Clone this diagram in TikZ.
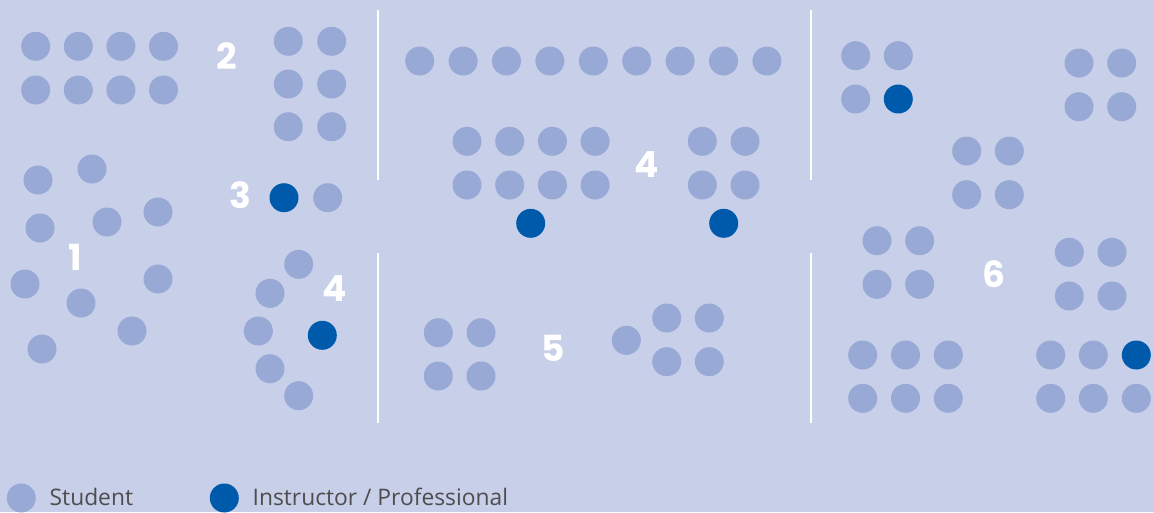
\documentclass[tikz,border=0pt]{standalone}
\usepackage{fontspec}
\setmainfont{Open Sans}
\newfontfamily\numfont{Poppins}
\usetikzlibrary{positioning}
\definecolor{bgblue}{HTML}{C8D0E9}
\definecolor{dotlight}{HTML}{99A9D5}
\definecolor{dotdark}{HTML}{005AAB}
\definecolor{textgray}{HTML}{4D4D4D}
\tikzset{
  student/.style={circle, fill=dotlight, minimum size=29pt, inner sep=0pt},
  instructor/.style={circle, fill=dotdark, minimum size=29pt, inner sep=0pt},
  grouplabel/.style={text=white, inner sep=0pt,
                     font=\numfont\bfseries\fontsize{36}{36}\selectfont},
  divider/.style={draw=white, line width=2.5pt},
  legendtext/.style={text=textgray, anchor=base west, inner sep=0pt,
                     font=\fontsize{22.8}{22.8}\selectfont}
}

\begin{document}
\begin{tikzpicture}[x=1pt, y=-1pt]
\fill[bgblue] (0,0) rectangle (1154,512);
\useasboundingbox (0,0) rectangle (1154,512);

% room dividers
\draw[divider] (378,10) -- (378,180);
\draw[divider] (378,253) -- (378,423);
\draw[divider] (811,10) -- (811,180);
\draw[divider] (811,253) -- (811,423);

% group 1
\foreach \x/\y [count=\n] in {38/180, 92/169, 40/228, 107/222, 158/212,
    25/284, 81/303, 158/279, 132/331, 42/349}
  \node[student] (one-\n) at (\x,\y) {};
\node[grouplabel] (lab1) at (75,257) {1};

% group 2
\foreach \i in {0,...,3}
  \foreach \j in {0,1}
    \node[student] (two-a-\i-\j) at ({35.7+42.6*\i},{46.3+43.7*\j}) {};
\foreach \i in {0,1}
  \foreach \j in {0,1,2}
    \node[student] (two-b-\i-\j) at ({288.3+43.4*\i},{41.3+42.7*\j}) {};
\node[grouplabel] (lab2) at (226.7,56) {2};

% group 3
\node[instructor] (three-a) at (284,197.7) {};
\node[student] (three-b) at (327.7,197.7) {};
\node[grouplabel] (lab3) at (240,195) {3};

% group 4, left
\foreach \x/\y/\s [count=\n] in {298.7/264.3/student, 270/293.3/student,
    258.3/331/student, 322.3/335.3/instructor, 270/368.7/student,
    298.7/395.7/student}
  \node[\s] (four-l-\n) at (\x,\y) {};
\node[grouplabel] (lab4l) at (334.3,289) {4};

% group 4, middle
\foreach \i in {0,...,8}
  \node[student] (four-row-\i) at ({419.7+43.4*\i},61) {};
\foreach \i in {0,...,3}
  \foreach \j in {0,1}
    \node[student] (four-a-\i-\j) at ({467+42.7*\i},{141.3+43.7*\j}) {};
\foreach \i in {0,1}
  \foreach \j in {0,1}
    \node[student] (four-b-\i-\j) at ({702.3+42.7*\i},{141.3+43.7*\j}) {};
\node[instructor] (four-p1) at (530.7,223.3) {};
\node[instructor] (four-p2) at (723.7,223.3) {};
\node[grouplabel] (lab4m) at (646.7,165) {4};

% group 5
\foreach \i in {0,1}
  \foreach \j in {0,1}
    \node[student] (five-a-\i-\j) at ({438.3+42.7*\i},{332.7+43.3*\j}) {};
\node[student] (five-c) at (626.3,340.3) {};
\foreach \i in {0,1}
  \foreach \j in {0,1}
    \node[student] (five-b-\i-\j) at ({666.7+42.6*\i},{318+43.7*\j}) {};
\node[grouplabel] (lab5) at (553.3,348.3) {5};

% group 6
\foreach \x/\y/\s [count=\n] in {855.7/55.7/student, 898.3/55.7/student,
    855.7/99/student, 898.3/99/instructor}
  \node[\s] (six-a-\n) at (\x,\y) {};
\foreach \i in {0,1}
  \foreach \j in {0,1} {
    \node[student] (six-b-\i-\j) at ({1079+42.7*\i},{63+43.7*\j}) {};
    \node[student] (six-c-\i-\j) at ({966.7+42.6*\i},{151+43.7*\j}) {};
    \node[student] (six-d-\i-\j) at ({877+42.7*\i},{240.7+43.6*\j}) {};
    \node[student] (six-e-\i-\j) at ({1069.3+42.7*\i},{252.3+43.7*\j}) {};
  }
\foreach \i in {0,1,2}
  \foreach \j in {0,1}
    \node[student] (six-f-\i-\j) at ({862.7+42.8*\i},{355+43.3*\j}) {};
\foreach \x/\y/\s [count=\n] in {1050.7/355/student, 1093.3/355/student,
    1136.3/355/instructor, 1050.7/398.3/student, 1093.3/398.3/student,
    1136.3/398.3/student}
  \node[\s] (six-g-\n) at (\x,\y) {};
\node[grouplabel] (lab6) at (994,274.3) {6};

% legend
\node[student] (key-s) at (21.3,498) {};
\node[legendtext] (key-s-text) at (49.5,505) {Student};
\node[instructor] (key-i) at (224.3,498) {};
\node[legendtext] (key-i-text) at (252.5,505) {Instructor / Professional};
\end{tikzpicture}
\end{document}
